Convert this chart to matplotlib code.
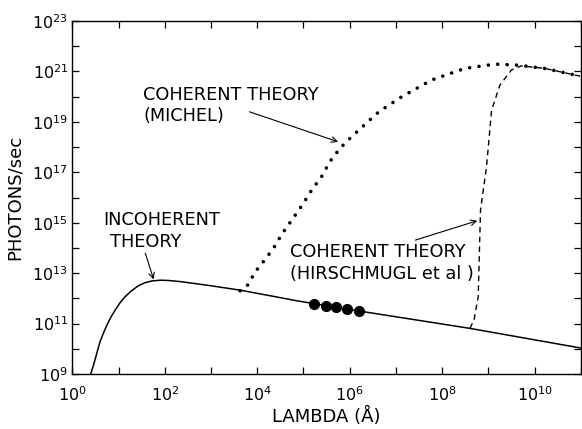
import numpy as np
import matplotlib.pyplot as plt
from matplotlib.ticker import FixedLocator, FuncFormatter, NullLocator

plt.rcParams['font.family'] = 'DejaVu Sans'
plt.rcParams['mathtext.default'] = 'regular'

# incoherent theory (log10 lambda, log10 photons/sec)
incoh_logx = [0.39, 0.45, 0.50, 0.55, 0.60, 0.68, 0.75, 0.84, 0.93, 1.03, 1.14, 1.28,
              1.43, 1.57, 1.72, 1.90, 2.08, 2.36, 3.00, 3.65, 4.90, 6.20, 8.60, 10.97, 11.0]
incoh_logy = [8.96, 9.30, 9.62, 9.95, 10.28, 10.65, 10.94, 11.27, 11.54, 11.82, 12.06, 12.30,
              12.50, 12.62, 12.69, 12.72, 12.71, 12.66, 12.50, 12.32, 11.89, 11.50, 10.81, 10.04, 10.03]

# coherent theory (Michel), dotted
michel_logx = [3.63, 3.78, 3.96, 4.13, 4.35, 4.53, 4.75, 4.96, 5.18, 5.39, 5.57,
               5.79, 6.04, 6.16, 6.63, 7.13, 7.77, 8.49, 9.14, 9.64, 10.22, 10.97, 11.0]
michel_logy = [12.30, 12.49, 13.06, 13.45, 13.98, 14.54, 15.11, 15.66, 16.30, 16.82, 17.42,
               17.95, 18.41, 18.61, 19.40, 20.00, 20.66, 21.12, 21.29, 21.25, 21.12, 20.82, 20.81]

# coherent theory (Hirschmugl et al), dashed
hirsch_logx = [8.60, 8.69, 8.78, 8.83, 8.96, 9.07, 9.25, 9.50, 9.71, 10.22, 10.97, 11.0]
hirsch_logy = [10.81, 11.14, 12.06, 15.50, 17.22, 19.47, 20.46, 21.06, 21.22, 21.12, 20.82, 20.81]

# measured points
meas_logx = [5.23, 5.48, 5.71, 5.95, 6.20]
meas_logy = [11.79, 11.70, 11.64, 11.58, 11.50]

x_ticks = list(range(0, 12))
y_ticks = list(range(9, 24))

fig = plt.figure(figsize=(5.82, 4.29), dpi=100)
ax = fig.add_axes([0.1242, 0.1282, 0.998 - 0.1242, 0.951 - 0.1282])

ax.plot(10.0 ** np.array(incoh_logx), 10.0 ** np.array(incoh_logy), color='black', lw=1.1)
ax.plot(10.0 ** np.array(michel_logx), 10.0 ** np.array(michel_logy), color='black', lw=2.6,
        linestyle=(0, (0.01, 2.6)), dash_capstyle='round')
ax.plot(10.0 ** np.array(hirsch_logx), 10.0 ** np.array(hirsch_logy), color='black', lw=1.0,
        linestyle=(0, (4.0, 3.0)))
ax.plot(10.0 ** np.array(meas_logx), 10.0 ** np.array(meas_logy), 'o', color='black', ms=7)

ax.set_xscale('log')
ax.set_yscale('log')
ax.set_xlim(1, 1e11)
ax.set_ylim(1e9, 1e23)

ax.xaxis.set_major_locator(FixedLocator([10.0 ** k for k in x_ticks]))
ax.yaxis.set_major_locator(FixedLocator([10.0 ** k for k in y_ticks]))
ax.xaxis.set_minor_locator(NullLocator())
ax.yaxis.set_minor_locator(NullLocator())


def xfmt(v, pos):
    k = int(round(np.log10(v)))
    return r'$10^{%d}$' % k if k % 2 == 0 and k <= 10 else ''


def yfmt(v, pos):
    k = int(round(np.log10(v)))
    return r'$10^{%d}$' % k if k % 2 == 1 else ''


ax.xaxis.set_major_formatter(FuncFormatter(xfmt))
ax.yaxis.set_major_formatter(FuncFormatter(yfmt))
ax.tick_params(which='both', direction='in', top=True, right=True, length=5, width=0.9,
               labelsize=11.5)
ax.tick_params(axis='x', pad=8)
ax.tick_params(axis='y', pad=3)
for s in ax.spines.values():
    s.set_linewidth(1.0)

ax.set_xlabel('LAMBDA (Å)', fontsize=13, labelpad=2)
ax.set_ylabel('PHOTONS/sec', fontsize=13, labelpad=6)

fs = 12.8
arrow = dict(arrowstyle='->', color='black', lw=0.8, shrinkA=0, shrinkB=0)
ax.text(10 ** 0.67, 10 ** 15.1, 'INCOHERENT', fontsize=fs, va='center', ha='left')
ax.text(10 ** 0.81, 10 ** 14.25, 'THEORY', fontsize=fs, va='center', ha='left')
ax.annotate('', xy=(10 ** 1.76, 10 ** 12.75), xytext=(10 ** 1.58, 10 ** 13.79), arrowprops=arrow)

ax.text(10 ** 1.53, 10 ** 20.06, 'COHERENT THEORY', fontsize=fs, va='center', ha='left')
ax.text(10 ** 1.53, 10 ** 19.23, '(MICHEL)', fontsize=fs, va='center', ha='left')
ax.annotate('', xy=(10 ** 5.75, 10 ** 18.21), xytext=(10 ** 3.83, 10 ** 19.40), arrowprops=arrow)

ax.text(10 ** 4.72, 10 ** 13.85, 'COHERENT THEORY', fontsize=fs, va='center', ha='left')
ax.text(10 ** 4.72, 10 ** 12.96, '(HIRSCHMUGL et al )', fontsize=fs, va='center', ha='left')
ax.annotate('', xy=(10 ** 8.76, 10 ** 15.08), xytext=(10 ** 7.42, 10 ** 14.31), arrowprops=arrow)

fig.savefig('out.png', dpi=100)
